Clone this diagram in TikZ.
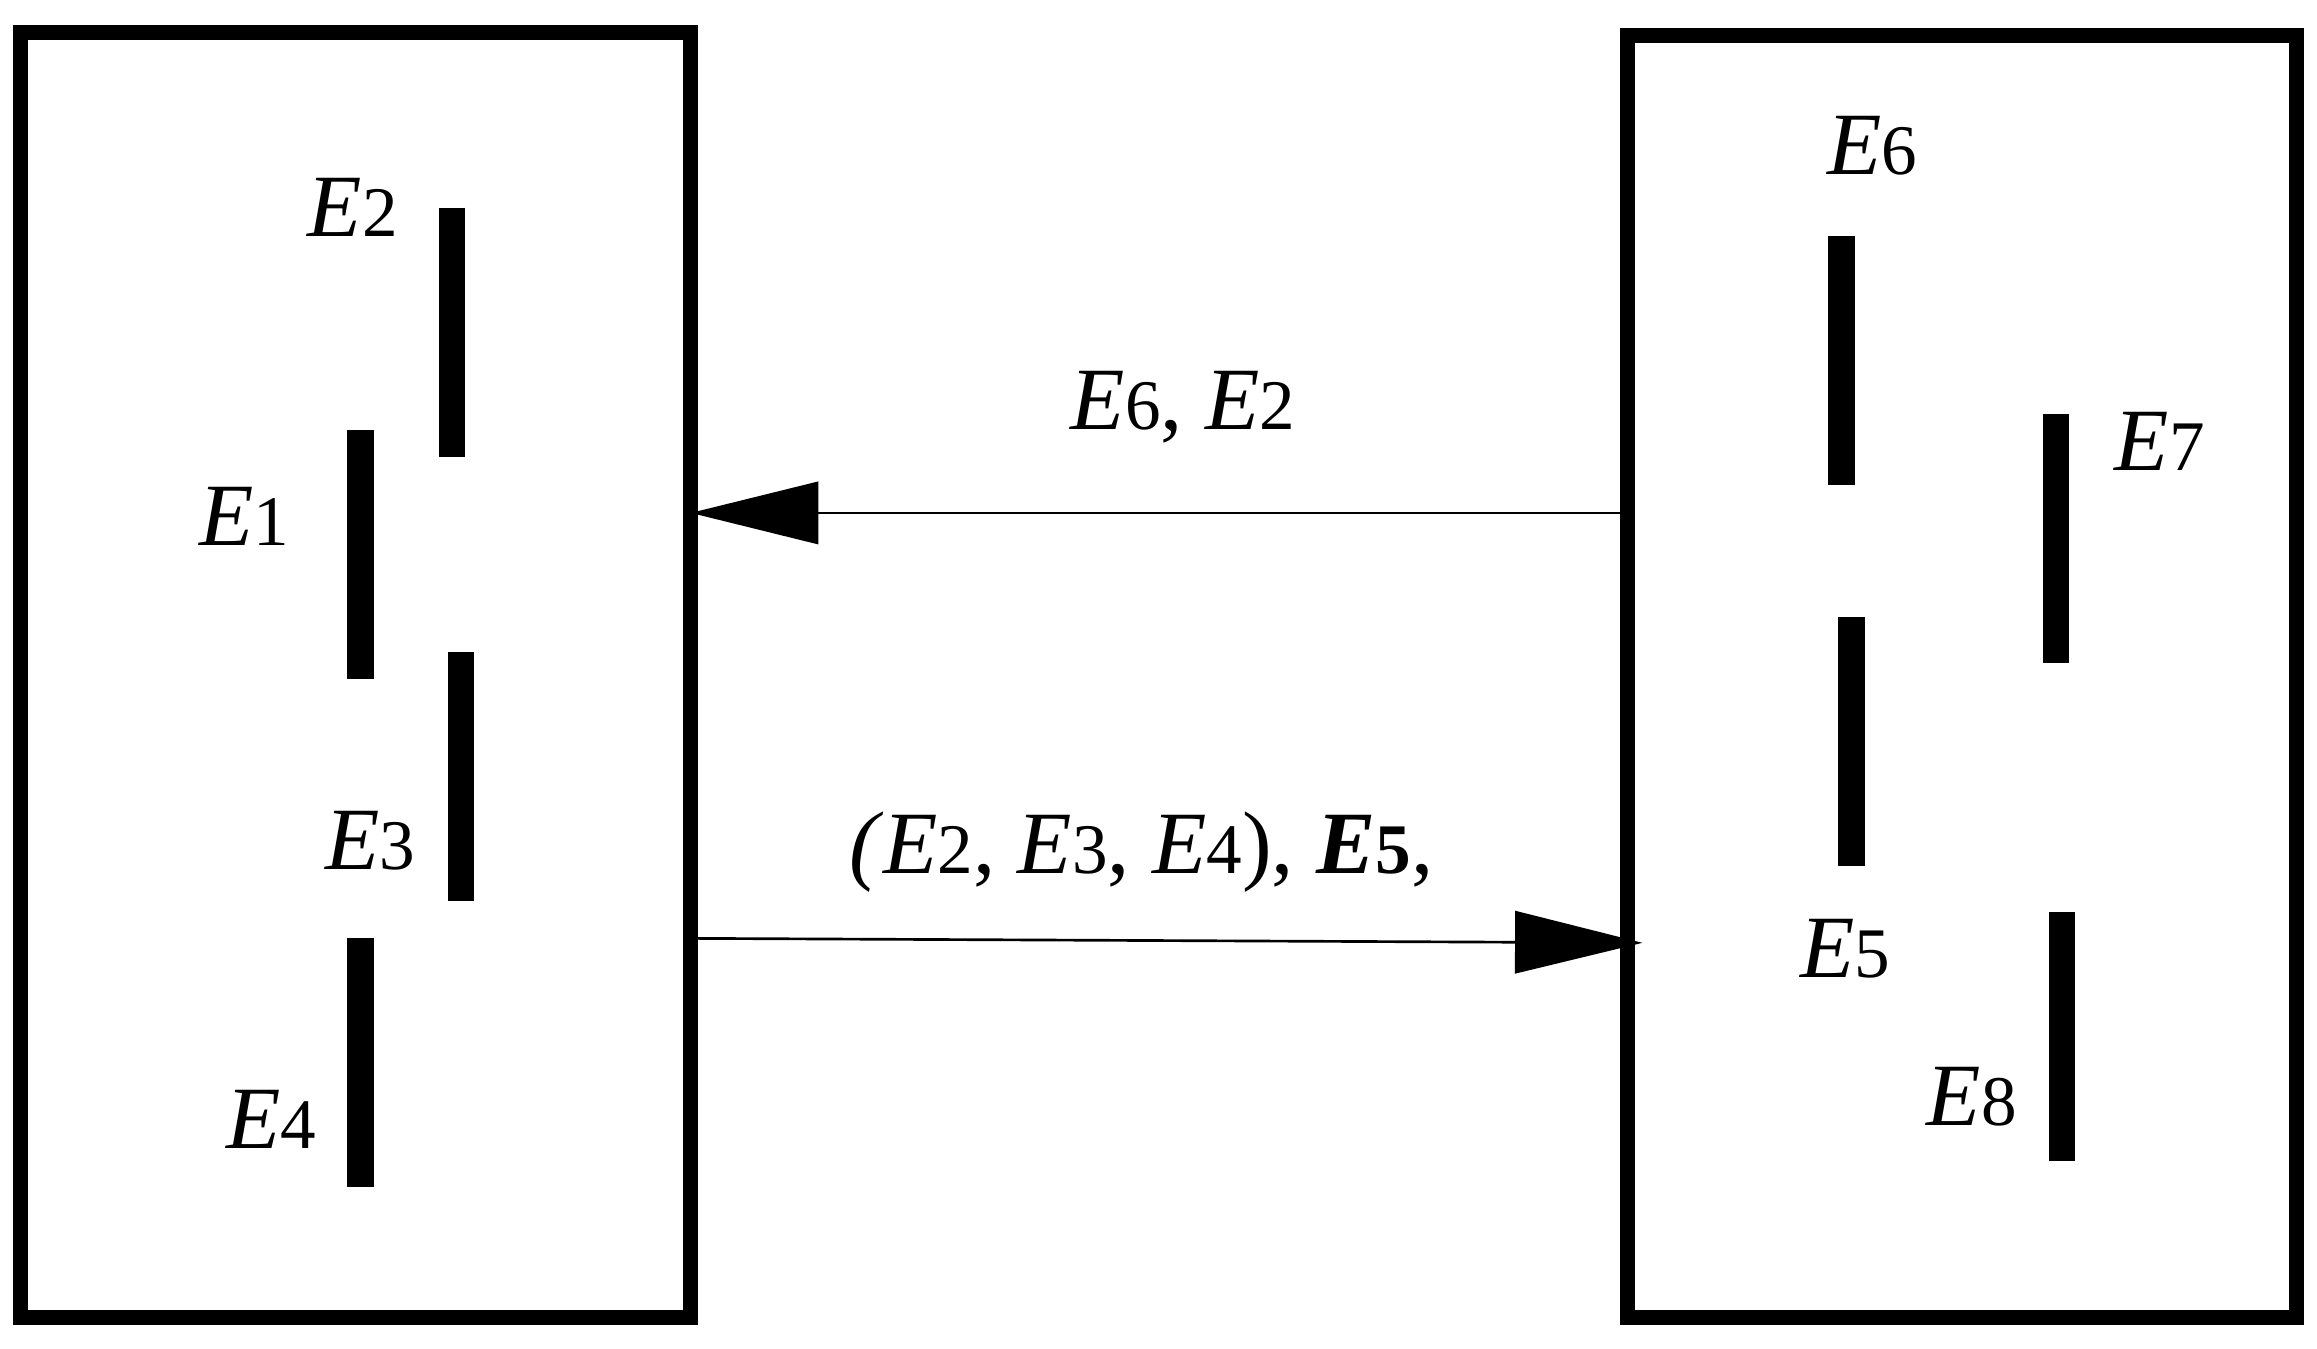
\documentclass[tikz,border=0pt]{standalone}
\usepackage{fontspec}
\setmainfont{Liberation Serif}
\usetikzlibrary{arrows.meta}
\newcommand{\Ei}[1]{\textit{E}{\fontsize{24}{26}\selectfont #1}}
\newcommand{\Eb}[1]{\textbf{\textit{E}}{\fontsize{24}{26}\selectfont\bfseries #1}}
\begin{document}
\begin{tikzpicture}[x=0.5pt,y=-0.5pt,
  box/.style={draw,line width=5pt},
  bar/.style={line width=9pt},
  lbl/.style={font=\fontsize{30}{32}\selectfont,inner sep=0pt},
  conn/.style={line width=0.9pt,-{Triangle[length=43pt,width=21pt]}}]
\useasboundingbox (0,0) rectangle (1563,910);
\draw[box] (14,22) rectangle (466,889);
\draw[box] (1098,24) rectangle (1549,889);
\coordinate (L1) at (466,346); \coordinate (R1) at (1098,346);
\coordinate (L2) at (466,633); \coordinate (R2) at (1108,636);
\draw[bar] (305,140) -- (305,308);
\draw[bar] (243,290) -- (243,458);
\draw[bar] (311,440) -- (311,608);
\draw[bar] (243,633) -- (243,801);
\draw[bar] (1242,159) -- (1242,327);
\draw[bar] (1387,279) -- (1387,447);
\draw[bar] (1249,416) -- (1249,584);
\draw[bar] (1391,615) -- (1391,783);
\node[lbl] (e2) at (238,140) {\Ei{2}};
\node[lbl] (e1) at (165,348) {\Ei{1}};
\node[lbl] (e3) at (250,567) {\Ei{3}};
\node[lbl] (e4) at (183,755) {\Ei{4}};
\node[lbl] (e6) at (1263,98) {\Ei{6}};
\node[lbl] (e7) at (1457,298) {\Ei{7}};
\node[lbl] (e5) at (1245,640) {\Ei{5}};
\node[lbl] (e8) at (1330,740) {\Ei{8}};
\draw[conn] (R1) -- (L1);
\draw[conn] (L2) -- (R2);
\node[lbl] (t1) at (798,275) {\Ei{6}, \Ei{2}};
\node[lbl] (t2) at (770,575) {\textit{(}\Ei{2}, \Ei{3}, \Ei{4}), \Eb{5},};
\end{tikzpicture}
\end{document}
